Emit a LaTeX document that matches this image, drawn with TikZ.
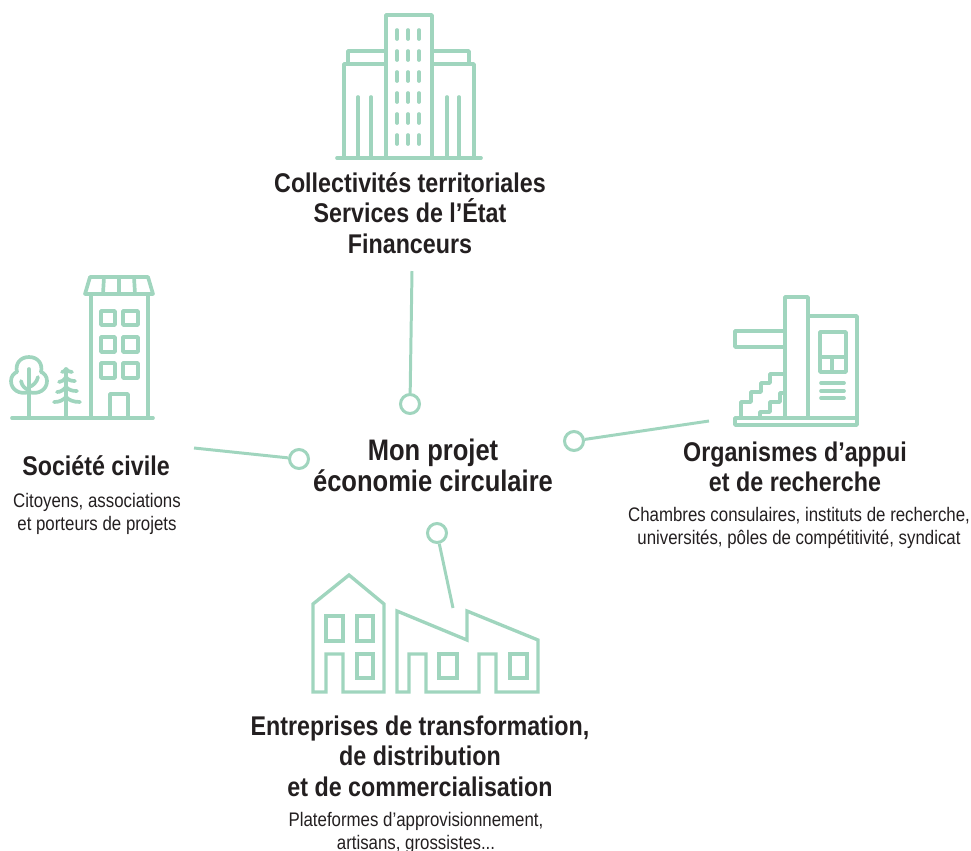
\documentclass[tikz,border=0pt]{standalone}
\usepackage{fontspec}
\setmainfont[FakeStretch=0.86]{Liberation Sans}
\definecolor{mint}{RGB}{160,213,190}
\definecolor{ink}{RGB}{35,31,32}
\tikzset{>=stealth}
\tikzset{
  icon/.style={draw=mint,line width=2.1pt,line join=round,line cap=round},
  thinicon/.style={icon,line width=1.9pt,line cap=butt,line join=miter},
  hub/.style={circle,draw=mint,fill=white,line width=1.7pt,minimum size=0.38cm,inner sep=0pt},
  link/.style={draw=mint,line width=1.7pt},
  title/.style={align=center,inner sep=0pt,text=ink,font=\bfseries\fontsize{15.4}{17.3}\selectfont},
  bigtitle/.style={title,font=\bfseries\fontsize{16.9}{17.6}\selectfont},
  detail/.style={align=center,inner sep=0pt,text=ink,font=\fontsize{11.15}{13.4}\selectfont}
}
\begin{document}
\begin{tikzpicture}[x=0.02cm,y=-0.02cm]
    \useasboundingbox (0,0) rectangle (971,850);

    % tower block
    \draw[icon] (337,158)--(481,158);
    \draw[icon] (386,158)--(386,15)--(432,15)--(432,158);
    \draw[icon] (344,158)--(344,64)--(386,64) (432,64)--(474,64)--(474,158);
    \draw[icon] (348,64)--(348,51)--(386,51) (432,51)--(469,51)--(469,64);
    \draw[icon] (358,97)--(358,158) (371,97)--(371,158) (447,97)--(447,158) (459,97)--(459,158);
    \draw[icon] (397,30)--(397,39) (397,51)--(397,60) (397,72)--(397,81) (397,93)--(397,102) (397,114)--(397,123) (397,135)--(397,144);
    \draw[icon] (408,30)--(408,39) (408,51)--(408,60) (408,72)--(408,81) (408,93)--(408,102) (408,114)--(408,123) (408,135)--(408,144);
    \draw[icon] (419,30)--(419,39) (419,51)--(419,60) (419,72)--(419,81) (419,93)--(419,102) (419,114)--(419,123) (419,135)--(419,144);

    % flats and trees
    \draw[icon] (12,418)--(153,418);
    \draw[icon] (91,418)--(91,294) (148,294)--(148,418);
    \draw[icon] (85,294)--(90,277)--(148,277)--(153,294)--cycle;
    \draw[icon] (104,277)--(103,294) (119,277)--(119,294) (134,277)--(135,294);
    \draw[icon] (101,311) rectangle (115,325) (123,311) rectangle (138,325);
    \draw[icon] (101,337) rectangle (115,352) (123,337) rectangle (138,352);
    \draw[icon] (101,363) rectangle (115,378) (123,363) rectangle (138,378);
    \draw[icon] (110,418)--(110,394)--(128,394)--(128,418);
    \draw[icon] (29,418)--(29,369);
    \draw[icon] (21,381) .. controls (22,386) and (25,389) .. (29,390);
    \draw[icon] (38,377) .. controls (37,382) and (33,386) .. (29,387);
    \draw[icon] (29,392) .. controls (20,395) and (11,390) .. (11,381)
       .. controls (11,376) and (14,373) .. (17,372)
       .. controls (15,364) and (20,357) .. (29,357)
       .. controls (38,357) and (43,364) .. (41,372)
       .. controls (44,373) and (47,376) .. (47,381)
       .. controls (47,390) and (38,395) .. (29,392);
    \draw[icon] (66,418)--(66,369);
    \draw[icon] (54,402) .. controls (60,402) and (63,400) .. (66,397) .. controls (69,400) and (73,402) .. (80,402);
    \draw[icon] (57,392) .. controls (61,392) and (63,390) .. (66,387) .. controls (69,390) and (72,391) .. (77,391);
    \draw[icon] (59,382) .. controls (62,382) and (64,380) .. (66,377) .. controls (68,380) and (71,381) .. (75,381);
    \draw[icon] (62,372) .. controls (63,372) and (65,371) .. (66,369) .. controls (67,371) and (70,372) .. (72,372);

    % research building
    \draw[icon] (735,418) rectangle (857,425);
    \draw[icon] (785,418)--(785,297)--(808,297)--(808,418);
    \draw[icon] (808,316)--(857,316)--(857,418);
    \draw[icon] (785,331)--(735,331)--(735,347)--(785,347);
    \draw[icon] (820,332) rectangle (846,372);
    \draw[icon] (820,357)--(846,357) (832,357)--(832,372);
    \draw[icon] (821,383)--(844,383) (821,391)--(844,391) (821,398)--(844,398);
    \draw[icon] (741,418)--(741,402)--(751,402)--(751,392)--(761,392)--(761,383)--(770,383)--(770,374)--(785,374);
    \draw[icon] (760,418)--(760,412)--(770,412)--(770,402)--(780,402)--(780,393)--(785,393);

    % house and workshop
    \draw[thinicon] (313,692)--(313,604)--(349,575)--(384,604)--(384,692)--(343,692)--(343,654)--(326,654)--(326,692)--cycle;
    \draw[thinicon] (326,616) rectangle (343,641) (357,616) rectangle (373,641);
    \draw[thinicon] (357,654) rectangle (373,678);
    \draw[thinicon] (397,692)--(397,611)--(467,640)--(467,611)--(538,640)--(538,692)--(496,692)--(496,654)--(479,654)--(479,692)--(426,692)--(426,654)--(409,654)--(409,692)--cycle;
    \draw[thinicon] (439,654) rectangle (457,678) (510,654) rectangle (527,678);

    % labels
    \node[bigtitle] (centre) at (433,465) {Mon projet\\économie circulaire};
    \node[title] (public) at (410,213) {Collectivités territoriales\\Services de l’État\\Financeurs};
    \node[title] (civil) at (96,466) {Société civile};
    \node[detail] (civildetail) at (97,514) {Citoyens, associations\\et porteurs de projets};
    \node[title] (support) at (795,467) {Organismes d’appui\\et de recherche};
    \node[detail] (supportdetail) at (799,528) {Chambres consulaires, instituts de recherche,\\universités, pôles de compétitivité, syndicat};
    \node[title] (firms) at (420,756) {Entreprises de transformation,\\de distribution\\et de commercialisation};
    \node[detail] (firmsdetail) at (416,833) {Plateformes d’approvisionnement,\\artisans, grossistes...};

    % connectors
    \node[hub] (hubtop) at (410,404) {};
    \node[hub] (hubleft) at (299,459) {};
    \node[hub] (hubright) at (574,441) {};
    \node[hub] (hubbottom) at (437,533) {};
    \coordinate (endtop) at (412,271);
    \coordinate (endleft) at (194,448);
    \coordinate (endright) at (709,421);
    \coordinate (endbottom) at (453,608);
    \draw[link] (hubtop)--(endtop);
    \draw[link] (hubleft)--(endleft);
    \draw[link] (hubright)--(endright);
    \draw[link] (hubbottom)--(endbottom);
\end{tikzpicture}
\end{document}
